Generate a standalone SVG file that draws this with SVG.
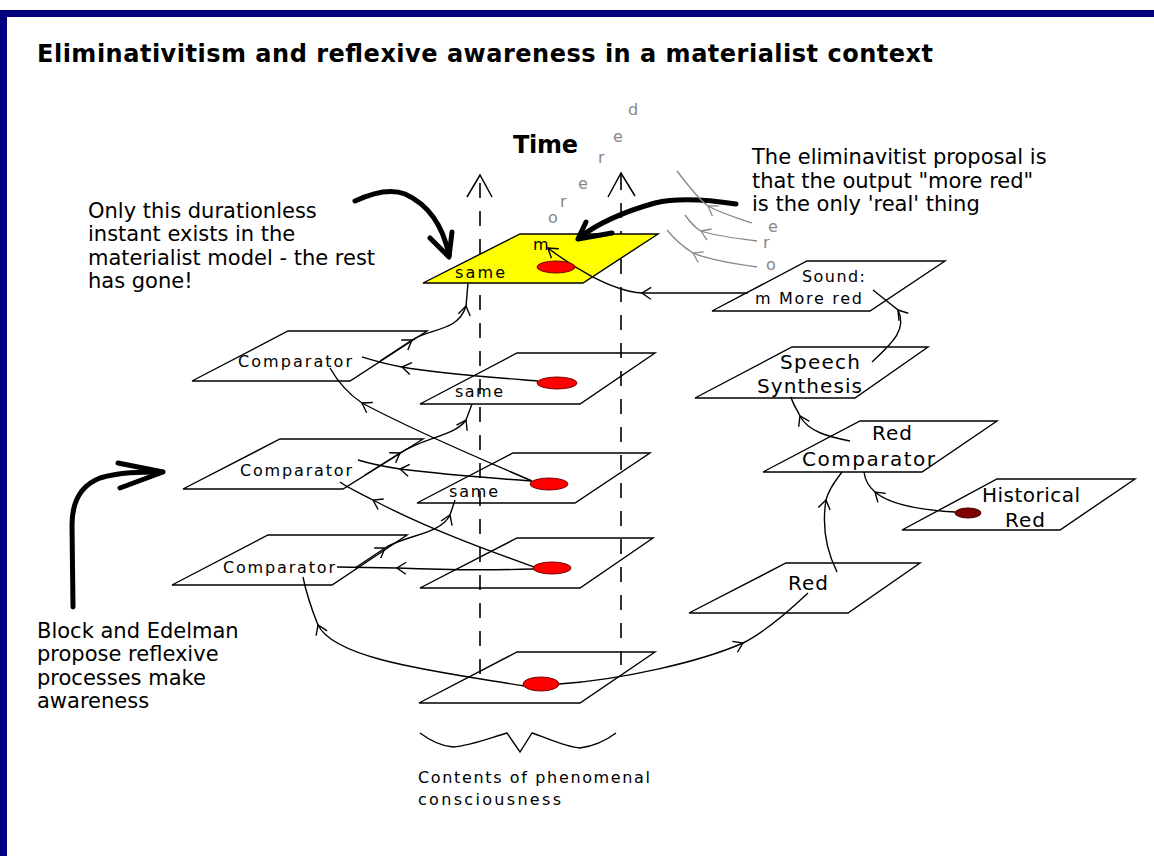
<svg xmlns="http://www.w3.org/2000/svg" width="1154" height="856" viewBox="0 0 1154 856">
<style>
text{font-family:"DejaVu Sans","Liberation Sans",sans-serif;fill:#000}
.ttl{font-size:24px;font-weight:bold}
.para{font-size:21px}
.lb{font-size:16px}
.lb2{font-size:20px}
.gr{font-size:16px;fill:#888}
.pl{fill:none;stroke:#000;stroke-width:1.4;stroke-linejoin:miter}
.dash{fill:none;stroke:#000;stroke-width:1.6;stroke-dasharray:15 13}
.cn{fill:none;stroke:#000;stroke-width:1.4;marker-mid:url(#chev)}
.gc{fill:none;stroke:#888;stroke-width:1.3;marker-mid:url(#chevg)}
.big{fill:none;stroke:#000;stroke-width:5;stroke-linecap:round;stroke-linejoin:round}
.dot{fill:#f00;stroke:#700;stroke-width:1}
</style>
<defs>
<marker id="chev" viewBox="-12 -7 14 14" refX="0" refY="0" markerWidth="14" markerHeight="14" markerUnits="userSpaceOnUse" orient="auto">
<path d="M-9,-6 L0,0 L-9,6" fill="none" stroke="#000" stroke-width="1.4"/>
</marker>
<marker id="chevg" viewBox="-12 -7 14 14" refX="0" refY="0" markerWidth="14" markerHeight="14" markerUnits="userSpaceOnUse" orient="auto">
<path d="M-9,-6 L0,0 L-9,6" fill="none" stroke="#888" stroke-width="1.3"/>
</marker>
</defs>
<rect x="0" y="0" width="1154" height="856" fill="#fff"/>
<g id="frame">
<rect x="0" y="10" width="1154" height="7" fill="#000080"/>
<rect x="0" y="10" width="7" height="846" fill="#000080"/>
</g>
<text class="ttl" x="37" y="62" textLength="896" lengthAdjust="spacing">Eliminativitism and reflexive awareness in a materialist context</text>
<g id="time-axis">
<text class="ttl" x="513" y="153" font-size="22" textLength="65" lengthAdjust="spacing">Time</text>
<path class="dash" d="M480,183 V680"/>
<path class="dash" d="M621,175 V665"/>
<path d="M467,197 L480,175 L492,197" fill="none" stroke="#000" stroke-width="1.5"/>
<path d="M608,197 L621,173 L635,196" fill="none" stroke="#000" stroke-width="1.5"/>
</g>
<g id="planes">
<g id="plane-now"><polygon points="520,234 658,234 583,283 423,283" fill="#ffff00" stroke="#000" stroke-width="1.4"/></g>
<g id="plane-sound"><polygon class="pl" points="807,261 945,261 870,311 712,311"/></g>
<g id="plane-speech"><polygon class="pl" points="792,347 928,347 855,398 695,398"/></g>
<g id="plane-redcomp"><polygon class="pl" points="860,421 997,421 922,472 763,472"/></g>
<g id="plane-historical"><polygon class="pl" points="997,479 1135,479 1060,530 902,530"/></g>
<g id="plane-red"><polygon class="pl" points="786,563 920,563 848,613 689,613"/></g>
<g id="plane-comp1"><polygon class="pl" points="288,331 427,331 350,381 192,381"/></g>
<g id="plane-same2"><polygon class="pl" points="517,353 655,353 580,404 420,404"/></g>
<g id="plane-comp2"><polygon class="pl" points="280,439 423,439 343,489 183,489"/></g>
<g id="plane-same3"><polygon class="pl" points="513,453 650,453 575,503 417,503"/></g>
<g id="plane-comp3"><polygon class="pl" points="268,535 407,535 332,585 172,585"/></g>
<g id="plane-4"><polygon class="pl" points="517,538 653,538 580,588 420,588"/></g>
<g id="plane-bottom"><polygon class="pl" points="517,652 655,652 580,703 419,703"/></g>
</g>
<g id="connectors">
<path class="cn" d="M538,381 C500,378 440,374 402,367 C385,364 372,360 362,357"/>
<path class="cn" d="M532,481 C500,467 420,434 362,403 C350,395 338,382 330,368"/>
<path class="cn" d="M365,475 L400,453 C425,437 455,436 466,420 L472,404"/>
<path class="cn" d="M380,361 L412,340 C430,328 458,332 466,306 L468,283"/>
<path class="cn" d="M531,481 C490,478 440,474 400,469 C380,466 368,463 358,460"/>
<path class="cn" d="M534,567 C495,553 430,530 373,500 C360,493 348,488 340,482"/>
<path class="cn" d="M355,568 L385,548 C405,535 440,535 450,515 L455,500"/>
<path class="cn" d="M534,569 Q470,571 397,568 L337,567"/>
<path class="cn" d="M524,686 C440,672 335,660 318,625 C312,610 306,592 303,577"/>
<path class="cn" d="M559,684 C620,680 700,662 743,643 C765,632 790,610 808,593"/>
<path class="cn" d="M837,572 C826,550 822,525 826,500 C829,488 836,480 842,472"/>
<path class="cn" d="M955,512 C920,510 890,505 875,492 C868,486 865,480 864,472"/>
<path class="cn" d="M850,441 C830,437 808,432 800,416 C796,408 792,402 791,397"/>
<path class="cn" d="M872,362 C890,345 908,330 898,310 L873,290"/>
<path class="cn" d="M748,293 L642,293 C610,291 570,265 548,248" marker-end="url(#chev)"/>
<path class="big" d="M355,201 C370,194 390,188 405,194 C425,203 442,222 449,255"/>
<path class="big" d="M430,238 L449,257 L452,232"/>
<path class="big" d="M736,204 C710,200 680,197 655,203 C630,210 600,222 580,237"/>
<path class="big" d="M586,222 L578,239 L612,233"/>
<path class="big" stroke-width="6" d="M73,607 L72,525 C72,500 82,485 100,478 C120,472 140,472 162,472"/>
<path class="big" stroke-width="6" d="M118,463 L163,472 L120,488"/>
<path class="gc" d="M752,223 C735,217 720,213 708,206 C698,199 688,185 677,171"/>
<path class="gc" d="M757,241 C735,238 715,236 701,231 C695,228 690,222 685,215"/>
<path class="gc" d="M757,267 C735,264 710,260 693,253 C685,248 675,240 667,230"/>
<path d="M420,733 C428,739 440,746 453,747 C470,746 490,738 507,733 L520,752 L532,733 C545,737 565,747 580,748 C595,746 608,739 616,733" fill="none" stroke="#000" stroke-width="1.4"/>
</g>
<g id="dots">
<ellipse class="dot" cx="556" cy="267" rx="19" ry="6"/>
<ellipse class="dot" cx="557" cy="383" rx="20" ry="6"/>
<ellipse class="dot" cx="549" cy="484" rx="19" ry="6"/>
<ellipse class="dot" cx="552" cy="568" rx="19" ry="6"/>
<ellipse class="dot" cx="541" cy="684" rx="18" ry="7"/>
<ellipse cx="968" cy="513" rx="13" ry="5" fill="#800000" stroke="#400" stroke-width="1"/>
</g>
<g id="labels">
<text class="lb" x="455" y="278" textLength="50" lengthAdjust="spacing">same</text>
<text class="lb" x="533" y="250">m</text>
<text class="lb" x="238" y="367" textLength="114" lengthAdjust="spacing">Comparator</text>
<text class="lb" x="455" y="397" textLength="48" lengthAdjust="spacing">same</text>
<text class="lb" x="240" y="476" textLength="112" lengthAdjust="spacing">Comparator</text>
<text class="lb" x="449" y="497" textLength="49" lengthAdjust="spacing">same</text>
<text class="lb" x="223" y="573" textLength="112" lengthAdjust="spacing">Comparator</text>
<text class="lb" x="802" y="282" textLength="63" lengthAdjust="spacing">Sound:</text>
<text class="lb" x="755" y="304" textLength="107" lengthAdjust="spacing">m More red</text>
<text class="lb2" x="780" y="369" textLength="80" lengthAdjust="spacing">Speech</text>
<text class="lb2" x="757" y="393" textLength="105" lengthAdjust="spacing">Synthesis</text>
<text class="lb2" x="872" y="440" textLength="40" lengthAdjust="spacing">Red</text>
<text class="lb2" x="802" y="466" textLength="133" lengthAdjust="spacing">Comparator</text>
<text class="lb2" x="982" y="502" textLength="98" lengthAdjust="spacing">Historical</text>
<text class="lb2" x="1005" y="527" textLength="40" lengthAdjust="spacing">Red</text>
<text class="lb2" x="788" y="590" textLength="40" lengthAdjust="spacing">Red</text>
<text class="lb" x="418" y="783" font-size="17" textLength="232" lengthAdjust="spacing">Contents of phenomenal</text>
<text class="lb" x="418" y="805" font-size="17" textLength="143" lengthAdjust="spacing">consciousness</text>
</g>
<g id="notes">
<text class="para" x="88" y="218">Only this durationless</text>
<text class="para" x="88" y="241">instant exists in the</text>
<text class="para" x="88" y="265">materialist model - the rest</text>
<text class="para" x="88" y="288">has gone!</text>
<text class="para" x="752" y="164">The eliminavitist proposal is</text>
<text class="para" x="752" y="188">that the output "more red"</text>
<text class="para" x="752" y="211">is the only 'real' thing</text>
<text class="para" x="37" y="638">Block and Edelman</text>
<text class="para" x="37" y="661">propose reflexive</text>
<text class="para" x="37" y="685">processes make</text>
<text class="para" x="37" y="708">awareness</text>
</g>
<g id="more-red-letters">
<text class="gr" x="628" y="115">d</text>
<text class="gr" x="613" y="142">e</text>
<text class="gr" x="598" y="163">r</text>
<text class="gr" x="578" y="189">e</text>
<text class="gr" x="560" y="207">r</text>
<text class="gr" x="548" y="223">o</text>
<text class="gr" x="768" y="232">e</text>
<text class="gr" x="763" y="248">r</text>
<text class="gr" x="766" y="270">o</text>
</g>
</svg>
